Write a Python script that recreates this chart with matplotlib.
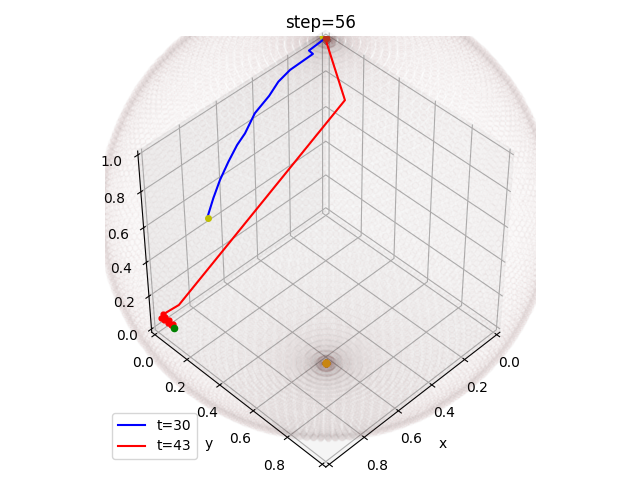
import numpy as np
import matplotlib
matplotlib.use('Agg')
import matplotlib.pyplot as plt

# Trajectories (x, y, z)
blue_x = [0.784, 0.728, 0.672, 0.610, 0.551, 0.505, 0.436, 0.360, 0.304, 0.246, 0.148, 0.153, 0.101, 0.081]
blue_y = [0.103, 0.081, 0.063, 0.050, 0.041, 0.040, 0.028, 0.034, 0.031, 0.040, 0.074, 0.056, 0.072, 0.077]
blue_z = [0.580, 0.635, 0.687, 0.740, 0.788, 0.821, 0.880, 0.930, 0.970, 1.003, 1.050, 1.060, 1.086, 1.096]
red_x = [1.103, 1.107, 1.099, 1.112, 1.103, 1.118, 1.108, 1.122, 1.107, 1.044, 0.150, 0.081]
red_y = [0.230, 0.217, 0.220, 0.205, 0.202, 0.187, 0.184, 0.174, 0.173, 0.199, 0.260, 0.077]
red_z = [0.265, 0.270, 0.274, 0.276, 0.285, 0.285, 0.293, 0.291, 0.301, 0.328, 0.917, 1.096]
blue_start = (0.784, 0.106, 0.578)
red_start = (1.103, 0.232, 0.263)
top_a = (0.083, 0.066, 1.101)
top_b = (0.078, 0.079, 1.096)
bottom_mark = (0.739, 0.738, 0.162)
series_labels = ['t=30', 't=43']

# Backdrop: regular latitude/longitude sphere (a geometric surface, not read values)
lat_count = 100
lon_count = 150
sphere_center = (0.365, 0.365, 0.5)
sphere_radius = 0.926

fig = plt.figure(figsize=(6.4, 4.8), dpi=100)
ax = fig.add_axes([105/640, 14/480, 430/640, 430/480], projection='3d')
ax.set_box_aspect((1, 1, 1))
ax.view_init(elev=45, azim=45)
ax.computed_zorder = False

theta, phi = np.meshgrid(np.linspace(0, np.pi, lat_count), np.linspace(0, 2*np.pi, lon_count, endpoint=False))
sx = sphere_center[0] + sphere_radius*np.sin(theta)*np.cos(phi)
sy = sphere_center[1] + sphere_radius*np.sin(theta)*np.sin(phi)
sz = sphere_center[2] + sphere_radius*np.cos(theta)
ax.scatter(sx.ravel(), sy.ravel(), sz.ravel(), color='#8a6060', alpha=0.015, depthshade=False, zorder=1)

ax.plot(blue_x, blue_y, blue_z, color='b', label=series_labels[0], zorder=3)
ax.plot(red_x, red_y, red_z, color='r', label=series_labels[1], zorder=3)
ax.scatter(red_x[1:9], red_y[1:9], red_z[1:9], color='r', s=12, depthshade=False, zorder=3)
ax.scatter(*blue_start, color='y', s=16, depthshade=False, zorder=4)
ax.scatter(*red_start, color='g', s=20, depthshade=False, zorder=4)
ax.scatter(*top_a, color='y', s=20, depthshade=False, zorder=2)
ax.scatter(*top_b, color='#b8301a', s=20, depthshade=False, zorder=4)
ax.scatter(*bottom_mark, color='#c8860f', s=26, depthshade=False, zorder=4)

ax.set_xlim(-0.02, 1.02); ax.set_ylim(-0.02, 1.02); ax.set_zlim(-0.02, 1.02)
ax.set_xlabel('x'); ax.set_ylabel('y')
ax.set_title('step=56')
ax.legend(loc='lower left')
fig.savefig('out.png', dpi=100)
